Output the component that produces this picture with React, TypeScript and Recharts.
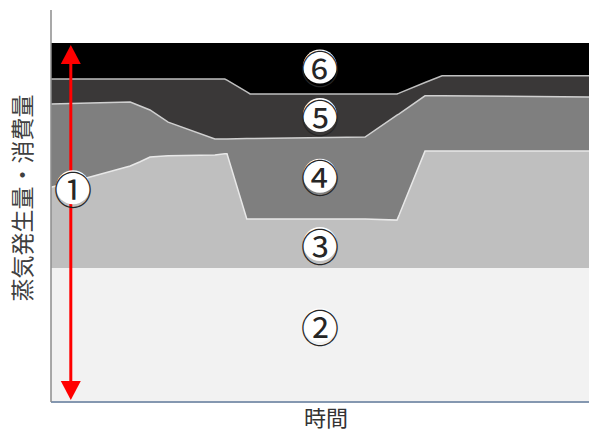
import {
  Area,
  ComposedChart,
  Label,
  ReferenceDot,
  ReferenceLine,
  XAxis,
  YAxis,
} from "recharts";

// time axis (0 = start, 100 = end of the visible period)
const time = [0, 7.1, 14.4, 16.2, 18.0, 21.3, 29.8, 31.6, 32.0, 35.6, 36.2, 57.1, 62.9, 63.3, 68.0, 71.1, 100];

// cumulative upper edge of each band (steam generation / consumption, % of full scale)
const level2 = [34.2, 34.2, 34.2, 34.2, 34.2, 34.2, 34.2, 34.2, 34.2, 34.2, 34.2, 34.2, 34.2, 34.2, 34.2, 34.2, 34.2];
const level3 = [54.8, 57.4, 60.2, 61.3, 62.5, 62.8, 63.0, 63.3, 63.3, 46.7, 46.7, 46.7, 46.4, 47.7, 64.0, 64.0, 64.0];
const level4 = [76.0, 76.3, 76.5, 75.5, 74.5, 71.4, 67.1, 67.1, 67.1, 67.2, 67.2, 67.6, 73.2, 73.5, 78.1, 78.1, 77.8];
const level5 = [82.4, 82.4, 82.4, 82.4, 82.4, 82.4, 82.4, 82.4, 82.1, 79.1, 78.6, 78.6, 78.6, 78.8, 81.5, 83.2, 83.2];
const level6 = [91.6, 91.6, 91.6, 91.6, 91.6, 91.6, 91.6, 91.6, 91.6, 91.6, 91.6, 91.6, 91.6, 91.6, 91.6, 91.6, 91.6];

// circled markers: text, time, level
const markTexts = ["①", "②", "③", "④", "⑤", "⑥"];
const markTimes = [4.0, 48.9, 48.9, 48.9, 48.9, 48.9];
const markLevels = [54.8, 19.6, 40.3, 57.7, 73.2, 85.6];

// red double arrow spanning the total amount
const arrowTime = 3.6;
const arrowFrom = 0.5;
const arrowTo = 91.1;

const data = time.map((t, i) => ({
  t,
  b2: level2[i],
  b3: level3[i],
  b4: level4[i],
  b5: level5[i],
  b6: level6[i],
}));

const bands = [
  { key: "b6", fill: "#000000", stroke: "none" },
  { key: "b5", fill: "#3a3838", stroke: "#bfbfbf" },
  { key: "b4", fill: "#7f7f7f", stroke: "#d0d0d0" },
  { key: "b3", fill: "#bfbfbf", stroke: "#e8e8e8" },
  { key: "b2", fill: "#f2f2f2", stroke: "none" },
];

const jp = "'Noto Sans CJK JP', 'Noto Sans', sans-serif";

function Mark(text: string) {
  return (p: any) => (
    <g>
      <circle cx={p.cx} cy={p.cy} r={17} fill="#ffffff" />
      <text
        x={p.cx}
        y={p.cy}
        textAnchor="middle"
        dominantBaseline="central"
        fontFamily={jp}
        fontSize={38}
        fill="#262626"
      >
        {text}
      </text>
    </g>
  );
}

function Arrow(p: any) {
  const x = p.x1;
  const top = Math.min(p.y1, p.y2);
  const bot = Math.max(p.y1, p.y2);
  const hw = 10;
  const hl = 19;
  return (
    <g>
      <line x1={x} y1={top + hl - 2} x2={x} y2={bot - hl + 2} stroke="#ff0000" strokeWidth={3} />
      <polygon points={`${x},${top} ${x - hw},${top + hl} ${x + hw},${top + hl}`} fill="#ff0000" />
      <polygon points={`${x},${bot} ${x - hw},${bot - hl} ${x + hw},${bot - hl}`} fill="#ff0000" />
    </g>
  );
}

export default function App() {
  return (
    <div
      style={{
        position: "absolute",
        left: 0,
        top: 0,
        width: 589,
        height: 430,
        overflow: "hidden",
        background: "#ffffff",
      }}
    >
      <ComposedChart
        width={601}
        height={430}
        data={data}
        margin={{ top: 10, right: 0, bottom: 0, left: 0 }}
      >
        <XAxis
          dataKey="t"
          type="number"
          domain={[0, 100]}
          tick={false}
          tickLine={false}
          height={28}
          axisLine={{ stroke: "#8497b0", strokeWidth: 2 }}
        >
          <Label
            value="時間"
            position="center"
            dy={2}
            style={{ fontFamily: jp, fontSize: 22, fill: "#333333" }}
          />
        </XAxis>
        <XAxis
          xAxisId="top"
          orientation="top"
          dataKey="t"
          type="number"
          domain={[0, 100]}
          tick={false}
          tickLine={false}
          height={0}
          axisLine={{ stroke: "#44546a", strokeWidth: 1 }}
        />
        <YAxis
          type="number"
          domain={[0, 100]}
          tick={false}
          tickLine={false}
          width={51}
          axisLine={{ stroke: "#8c8c8c", strokeWidth: 1.5 }}
        >
          <Label
            value="蒸気発生量・消費量"
            angle={-90}
            position="center"
            dx={-3}
            dy={-8}
            style={{ fontFamily: jp, fontSize: 23, fill: "#404040" }}
          />
        </YAxis>
        {bands.map((b) => (
          <Area
            key={b.key}
            type="linear"
            dataKey={b.key}
            fill={b.fill}
            fillOpacity={1}
            stroke={b.stroke}
            strokeWidth={1.5}
            dot={false}
            activeDot={false}
            isAnimationActive={false}
          />
        ))}
        <ReferenceLine
          segment={[
            { x: arrowTime, y: arrowFrom },
            { x: arrowTime, y: arrowTo },
          ]}
          shape={Arrow}
        />
        {markTexts.map((m, i) => (
          <ReferenceDot
            key={m}
            x={markTimes[i]}
            y={markLevels[i]}
            r={17}
            shape={Mark(m)}
          />
        ))}
      </ComposedChart>
    </div>
  );
}
